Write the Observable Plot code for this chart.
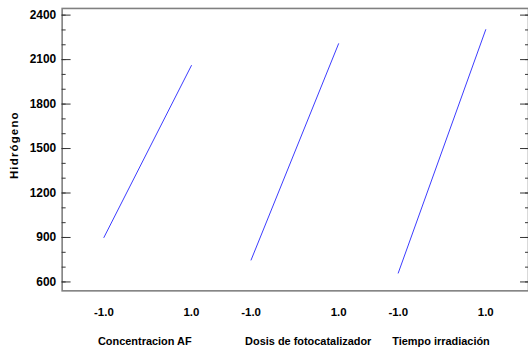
<!DOCTYPE html>
<html>
<head>
<meta charset="utf-8">
<script src="https://cdn.jsdelivr.net/npm/d3@7"></script>
<script src="https://cdn.jsdelivr.net/npm/@observablehq/plot@0.6"></script>
<style>
  html, body { margin: 0; padding: 0; background: #fff; overflow: hidden; }
  #wrap { width: 528px; height: 354px; overflow: hidden; }
  svg text { font-family: "Liberation Sans", Arial, sans-serif; font-weight: bold; }
</style>
</head>
<body>
<div id="wrap"></div>
<script>
// Factors (one panel each), coded levels and predicted response values
const factors = ["Concentracion AF", "Dosis de fotocatalizador", "Tiempo irradiación"];
const levels = [-1, 1];
const lowValues = [900, 748, 660];      // Hidrógeno at level -1.0
const highValues = [2060, 2207, 2302];  // Hidrógeno at level 1.0
const yMajorTicks = [600, 900, 1200, 1500, 1800, 2100, 2400];
const yMinorTicks = d3.range(600, 2401, 100);
const yLabel = "Hidrógeno";

// horizontal layout: each factor occupies a slot, -1..1 inside it
const GAP = 148 / 44; // slot spacing in coded units
const pos = (i, v) => i * GAP + v;

const lineData = [];
factors.forEach((f, i) => {
  lineData.push({factor: f, x: pos(i, levels[0]), y: lowValues[i]});
  lineData.push({factor: f, x: pos(i, levels[1]), y: highValues[i]});
});
const tickData = [];
factors.forEach((f, i) => levels.forEach(v => tickData.push({x: pos(i, v), label: v.toFixed(1)})));
const titleData = factors.map((f, i) => ({x: pos(i, -1), label: f}));

const xMin = -86 / 44, xMax = pos(2, 0) + 87 / 44;

const chart = Plot.plot({
  width: 531,
  height: 354,
  marginLeft: 62,
  marginRight: 0,
  marginTop: 8,
  marginBottom: 62,
  x: {domain: [xMin, xMax], axis: null},
  y: {domain: [540, 2445], axis: null},
  marks: [
    Plot.frame({stroke: "#808080", strokeWidth: 1.6}),
    // left axis: labels, major and minor inward ticks
    Plot.axisY(yMajorTicks, {anchor: "left", tickSize: 0, tickPadding: 6, label: null, fontSize: 12, fill: "#000", tickFormat: d => String(d)}),
    Plot.axisY(yMajorTicks, {anchor: "left", tickSize: -9, tickFormat: () => "", label: null, stroke: "#333"}),
    Plot.axisY(yMinorTicks, {anchor: "left", tickSize: -4, tickFormat: () => "", label: null, stroke: "#333"}),
    // right axis: inward ticks
    Plot.axisY(yMajorTicks, {anchor: "right", tickSize: -9, tickFormat: () => "", label: null, stroke: "#333"}),
    Plot.axisY(yMinorTicks, {anchor: "right", tickSize: -4, tickFormat: () => "", label: null, stroke: "#333"}),
    // x tick labels
    Plot.text(tickData, {x: "x", text: "label", frameAnchor: "bottom", dy: 25, fontSize: 11.5, fill: "#000"}),
    // factor titles
    Plot.text(titleData, {x: "x", text: "label", frameAnchor: "bottom", dy: 54, dx: -6, textAnchor: "start", fontSize: 11, fill: "#000"}),
    // y title
    Plot.text([yLabel], {frameAnchor: "left", textAnchor: "middle", rotate: -90, dx: -48, dy: -4.5, fontSize: 11.5, fill: "#000"}),
    // effect lines
    Plot.line(lineData, {x: "x", y: "y", z: "factor", stroke: "#3a3aff", strokeWidth: 1})
  ]
});
d3.select(chart).selectAll("text").filter(function() { return this.textContent === yLabel; })
  .style("letter-spacing", "1.2px");
document.getElementById("wrap").appendChild(chart);
</script>
</body>
</html>
